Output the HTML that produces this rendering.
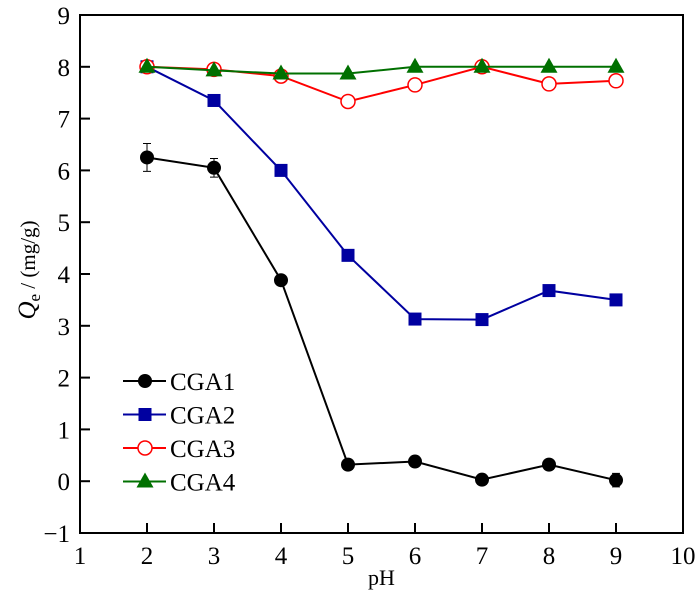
<!DOCTYPE html>
<html><head><meta charset="utf-8"><style>
body{margin:0;background:#fff}
svg{display:block}
text{font-family:"Liberation Serif",serif;fill:#000}
</style></head><body>
<svg id="chart" width="700" height="596"></svg>
<script>
const pH=[2,3,4,5,6,7,8,9];
const cga1=[6.25,6.05,3.88,0.32,0.38,0.03,0.32,0.02];
const cga1Err=[0.27,0.18,0.05,0.05,0.05,0.05,0.05,0.13];
const cga2=[8.0,7.35,6.0,4.36,3.13,3.12,3.68,3.5];
const cga3=[8.0,7.95,7.82,7.33,7.65,8.0,7.67,7.73];
const cga4=[8.0,7.93,7.87,7.87,8.0,8.0,8.0,8.0];
const xTicks=[1,2,3,4,5,6,7,8,9,10];
const yTicks=[-1,0,1,2,3,4,5,6,7,8,9];
const seriesNames=["CGA1","CGA2","CGA3","CGA4"];

const NS="http://www.w3.org/2000/svg";
const svg=document.getElementById('chart');
const L=80,R=683,T=15,B=533;
const xs=v=>L+(v-1)/9*(R-L);
const ys=v=>B-(v+1)/10*(B-T);
function mk(tag,attrs,parent){const e=document.createElementNS(NS,tag);for(const k in attrs)e.setAttribute(k,attrs[k]);(parent||svg).appendChild(e);return e;}

const frame=mk('rect',{x:L,y:T,width:R-L,height:B-T,fill:'none',stroke:'#000','stroke-width':2});


xTicks.forEach(t=>{
  const x=xs(t);
  const ln=mk('line',{x1:x,x2:x,y1:B,y2:B-10,stroke:'#000','stroke-width':2});
  
  
  const tx=mk('text',{x:x,y:B+31,'text-anchor':'middle','font-size':25});
  tx.textContent=t;
  
  
});
yTicks.forEach(t=>{
  const y=ys(t);
  const ln=mk('line',{x1:L,x2:L+10,y1:y,y2:y,stroke:'#000','stroke-width':2});
  
  
  const tx=mk('text',{x:L-10,y:y+9,'text-anchor':'end','font-size':25});
  tx.textContent=t<0?'\u2212'+(-t):t;
  
  
});
const xt=mk('text',{x:xs(5.5),y:585,'text-anchor':'middle','font-size':22});
xt.textContent='pH';


const yt=mk('text',{transform:'translate(35,270) rotate(-90)','text-anchor':'middle','font-size':21});
yt.innerHTML='<tspan font-style="italic" font-size="25">Q</tspan><tspan font-size="17" dy="5">e</tspan><tspan dy="-5"> / (mg/g)</tspan>';



function marker(kind,x,y,color,g){
  if(kind==='circle')return mk('circle',{cx:x,cy:y,r:7,fill:'#000'},g);
  if(kind==='square')return mk('rect',{x:x-6.5,y:y-6.5,width:13,height:13,fill:color},g);
  if(kind==='ocircle')return mk('circle',{cx:x,cy:y,r:7,fill:'#fff',stroke:color,'stroke-width':1.5},g);
  return mk('polygon',{points:`${x},${y-9} ${x-8.5},${y+6} ${x+8.5},${y+6}`,fill:color},g);
}
const series=[
  {vals:cga1,color:'#000',kind:'circle'},
  {vals:cga2,color:'#0000a0',kind:'square'},
  {vals:cga3,color:'#ff0000',kind:'ocircle'},
  {vals:cga4,color:'#007000',kind:'triangle'}
];
cga1.forEach((v,i)=>{
  const x=xs(pH[i]);
  const e=mk('path',{d:`M${x},${ys(v+cga1Err[i])}V${ys(v-cga1Err[i])}M${x-4},${ys(v+cga1Err[i])}h8M${x-4},${ys(v-cga1Err[i])}h8`,stroke:'#000','stroke-width':1,fill:'none'});
  
  
});
series.forEach((s,si)=>{
  const g=mk('g',{});
  
  
  mk('polyline',{points:s.vals.map((v,i)=>xs(pH[i])+','+ys(v)).join(' '),fill:'none',stroke:s.color,'stroke-width':2},g);
  s.vals.forEach((v,i)=>{
    const m=marker(s.kind,xs(pH[i]),ys(v),s.color,g);
    
    
  });
  const ly=381+si*33.5;
  const lg=mk('g',{});
  
  
  mk('line',{x1:123,x2:166,y1:ly,y2:ly,stroke:s.color,'stroke-width':2},lg);
  marker(s.kind,145,ly,s.color,lg);
  const lt=mk('text',{x:170,y:ly+9,'font-size':25},lg);
  lt.textContent=seriesNames[si];
});
</script>
</body></html>
